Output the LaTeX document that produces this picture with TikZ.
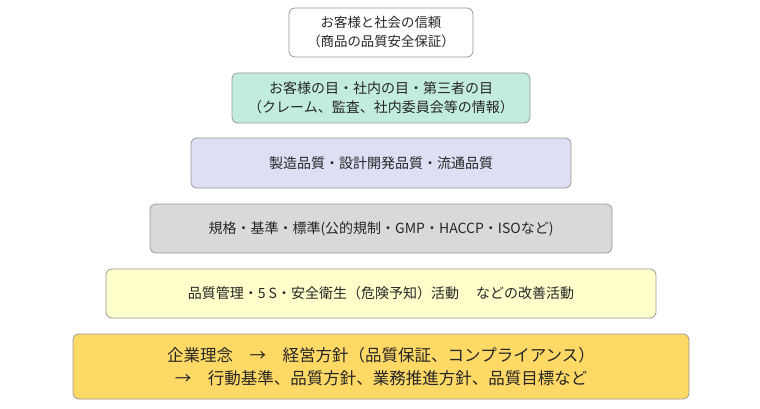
\documentclass[tikz,border=0pt]{standalone}
\usepackage{fontspec}
\setmainfont{Noto Sans CJK JP}
\begin{document}
\begin{tikzpicture}[x=1pt,y=-1pt,
  tier/.style={draw=black!40,line width=0.8pt,rounded corners=6pt},
  lbl/.style={text=black!85,align=center,font=\fontsize{14}{19.5}\selectfont},
  toplbl/.style={text=black!85,align=center,font=\fontsize{13.4}{19}\selectfont},
  biglbl/.style={text=black!85,align=center,font=\fontsize{16.5}{22.5}\selectfont}]
\useasboundingbox (0,0) rectangle (760,409);
\definecolor{cteal}{HTML}{C3ECE0}
\definecolor{clav}{HTML}{DDE0F4}
\definecolor{cgray}{HTML}{D9D9D9}
\definecolor{cyel}{HTML}{FFFFCC}
\definecolor{cgold}{HTML}{FFD966}
\draw[tier,fill=white] (289,8) rectangle (473,57);
\draw[tier,fill=cteal] (232,73) rectangle (530,123);
\draw[tier,fill=clav] (191,138) rectangle (571,188);
\draw[tier,fill=cgray] (150,204) rectangle (612,253);
\draw[tier,fill=cyel] (106,269) rectangle (656,318);
\draw[tier,fill=cgold] (73,334) rectangle (689,399);
\node[toplbl] (t1) at (381,32.5) {お客様と社会の信頼\\（商品の品質安全保証）};
\node[lbl] (t2) at (381,98) {お客様の目・社内の目・第三者の目\\（クレーム、監査、社内委員会等の情報）};
\node[lbl] (t3) at (381,163) {製造品質・設計開発品質・流通品質};
\node[lbl] (t4) at (381,228.5) {規格・基準・標準(公的規制・GMP・HACCP・ISOなど)};
\node[lbl] (t5) at (381,293.5) {品質管理・5 S・安全衛生（危険予知）活動　 などの改善活動};
\node[biglbl] (t6) at (381,366.5) {企業理念　→　経営方針（品質保証、コンプライアンス）\\→　行動基準、品質方針、業務推進方針、品質目標など};
\end{tikzpicture}
\end{document}
